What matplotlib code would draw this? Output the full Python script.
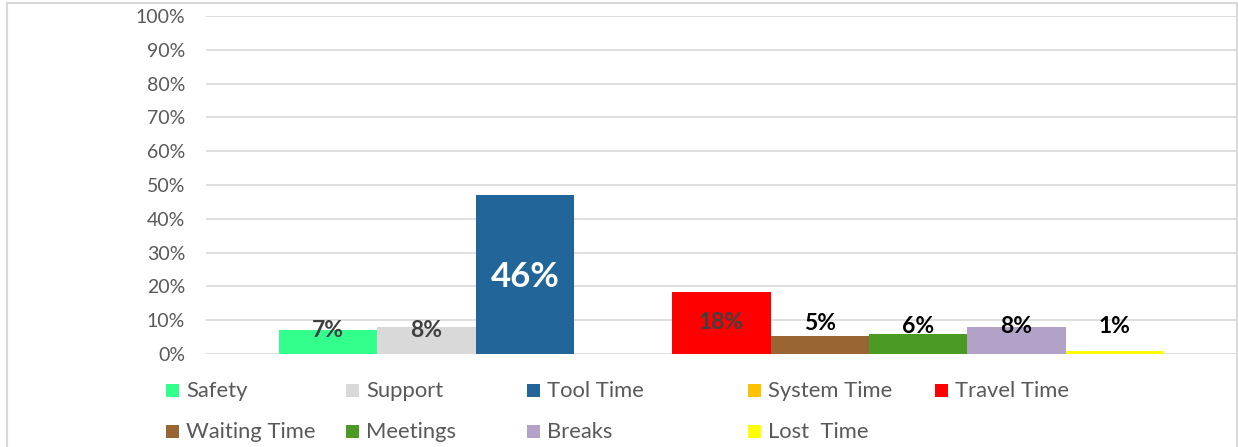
import matplotlib
matplotlib.use("Agg")
import matplotlib.pyplot as plt
from matplotlib.patches import Rectangle
from matplotlib.ticker import FuncFormatter

categories = ["Safety", "Support", "Tool Time", "System Time", "Travel Time",
              "Waiting Time", "Meetings", "Breaks", "Lost  Time"]
values = [0.071, 0.079, 0.47, 0.0, 0.183, 0.053, 0.059, 0.08, 0.009]
labels = ["7%", "8%", "46%", "", "18%", "5%", "6%", "8%", "1%"]
colors = ["#33FF8C", "#D9D9D9", "#226699", "#FFC000", "#FF0000",
          "#996633", "#4A9A23", "#B3A2C7", "#FFFF00"]
label_y = [0.071, 0.071, 0.228, 0.0, 0.092, 0.089, 0.08, 0.08, 0.08]
label_colors = ["#404040", "#404040", "white", "black", "#404040",
                "black", "black", "black", "black"]

plt.rcParams['font.family'] = ['Lato', 'DejaVu Sans']

W, H = 1238, 447
fig = plt.figure(figsize=(W / 100, H / 100), dpi=100)
ax = fig.add_axes([206 / W, 1 - 354 / H, (1237 - 206) / W, (354 - 16) / H])

x = list(range(len(categories)))
ax.bar(x, values, width=1.0, color=colors, zorder=3)
for i, (lab, ly, lc) in enumerate(zip(labels, label_y, label_colors)):
    if not lab:
        continue
    fs = 25 if i == 2 else 16.5
    ax.text(i, ly, lab, ha="center", va="center", fontsize=fs,
            fontweight="bold", color=lc, zorder=4)

ax.set_ylim(0, 1)
ax.set_xlim(-1.243, len(categories) - 1 + 0.5 + 0.743)
ax.set_yticks([i / 10 for i in range(11)])
ax.yaxis.set_major_formatter(FuncFormatter(lambda v, p: f"{int(round(v * 100))}%"))
ax.tick_params(axis="y", length=0, pad=15, labelsize=14, labelcolor="#595959")
ax.set_xticks([])
for s in ax.spines.values():
    s.set_visible(False)
ax.grid(axis="y", color="#D9D9D9", lw=1.2, zorder=0)

# legend (manual, Excel-like layout)
col_x = [166, 346, 527, 748, 935]
row_y = [390, 431]
for i, (cat, col) in enumerate(zip(categories, colors)):
    r, c = divmod(i, 5)
    px, py = col_x[c], row_y[r]
    fig.patches.append(Rectangle((px / W, 1 - (py + 7) / H), 13 / W, 13 / H,
                                 transform=fig.transFigure, facecolor=col,
                                 edgecolor="none"))
    fig.text((px + 20) / W, 1 - (py + 1) / H, cat, ha="left", va="center",
             fontsize=15.8, color="#595959")

# chart border
fig.patches.append(Rectangle((7 / W, -0.1), (1237 - 7) / W, 1.1 - 3 / H,
                             transform=fig.transFigure, facecolor="none",
                             edgecolor="#D9D9D9", lw=1.5))

fig.savefig("out.png", dpi=100)
